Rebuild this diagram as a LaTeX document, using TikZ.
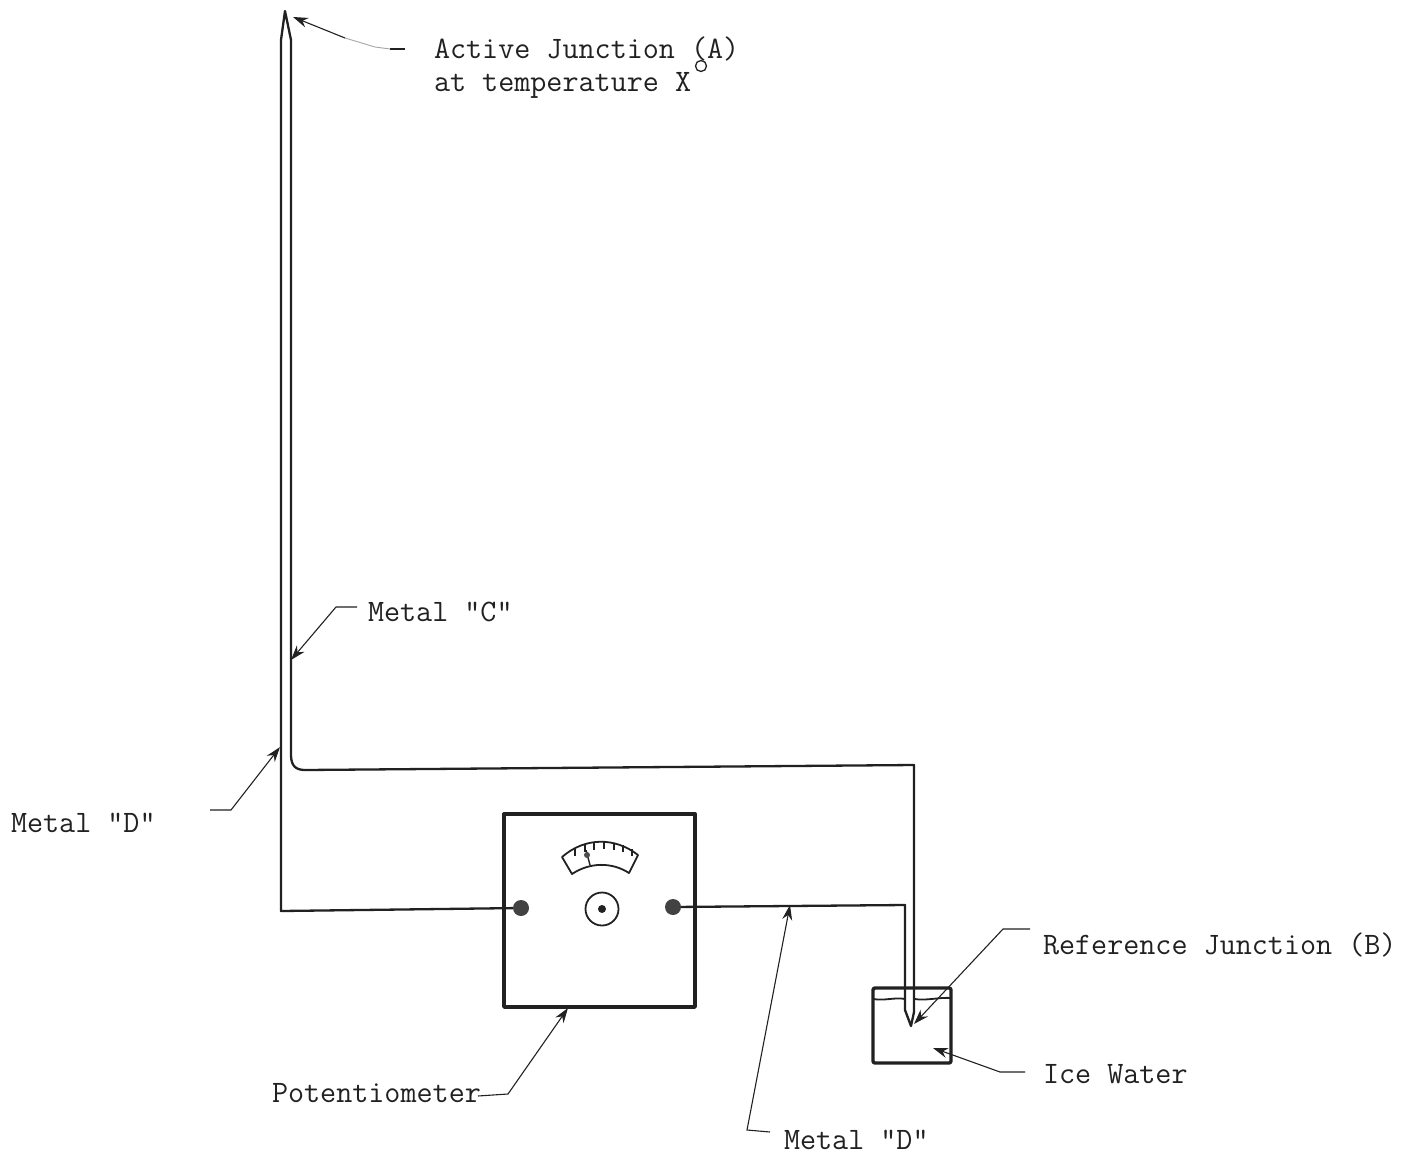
\documentclass[tikz,border=0pt]{standalone}
\usepackage{fontspec}
\setmonofont{Latin Modern Mono}
\usetikzlibrary{arrows.meta}
\definecolor{ink}{gray}{0.13}
\tikzset{
  wire/.style={draw=ink,line width=2.3pt,line join=round},
  heavy/.style={draw=ink,line width=3.4pt,line join=round},
  thin wire/.style={draw=ink,line width=1.8pt},
  leader/.style={draw=ink,line width=1.1pt,-{Stealth[length=15pt,width=10pt]}},
  faint leader/.style={draw=ink!40,line width=0.9pt},
  label/.style={anchor=base west,inner sep=0pt,outer sep=0pt,text=ink,font=\ttfamily\fontsize{31.2}{33}\selectfont},
  terminal/.style={circle,fill=ink!85,minimum size=16pt,inner sep=0pt},
}
\begin{document}
\begin{tikzpicture}[x=1pt,y=-1pt]
\useasboundingbox (0,0) rectangle (1413,1159);
% labels
\node[label] (lA) at (434,58) {Active Junction (A)};
\node[label] (lT) at (434,91) {at temperature X};
\node[label] (lC) at (368,621) {Metal "C"};
\node[label] (lD) at (11,832) {Metal "D"};
\node[label] (lP) at (272,1102) {Potentiometer};
\node[label] (lD2) at (784,1149) {Metal "D"};
\node[label] (lB) at (1043,954) {Reference Junction (B)};
\node[label] (lI) at (1043,1083) {Ice Water};
\draw[thin wire,line width=1.3pt] (701,66) circle (5.5);
% potentiometer
\node[heavy,draw,minimum width=191pt,minimum height=193pt,inner sep=0pt] (pot) at (599.5,910.5) {};
\node[terminal] (tl) at (521,908) {};
\node[terminal] (tr) at (673,907) {};
\node[circle,draw=ink,line width=1.8pt,minimum size=33pt,inner sep=0pt] (knob) at (602,909) {};
\node[circle,fill=ink,minimum size=8pt,inner sep=0pt] (knobc) at (602,909) {};
% dial
\draw[thin wire,line join=round] (572,874) .. controls (590,862) and (612,862) .. (629,873) -- (638,855) .. controls (615,837) and (585,837) .. (562,857) -- cycle;
\foreach \x/\yA/\yB in {575/849/856,585/845/852,594/843/850,604/842/849,614/843/850,623/845/852,632/849/856}
  \draw[thin wire,line width=1.2pt] (\x,\yA) -- (\x,\yB);
\draw[thin wire,line width=1.4pt] (590,865) -- (586,850);
\node[circle,fill=ink!80,minimum size=6pt,inner sep=0pt] (needle) at (587,855) {};
% beaker
\node[heavy,draw,rounded corners=2pt,minimum width=78pt,minimum height=75pt,inner sep=0pt] (beaker) at (912,1025.5) {};
\draw[thin wire] (873,999) .. controls (885,1001) and (895,997) .. (905,999);
\draw[thin wire] (915,999) .. controls (925,1001) and (940,997) .. (951,998);
% thermocouple wires
\coordinate (tip) at (285,11);
\coordinate (jB) at (911,1026);
\draw[wire] (tl) -- (281,911) -- (281,40) -- (tip) -- (291,40) -- (291,755) .. controls (291,766) and (296,770) .. (305,770) -- (914,765) -- (914,1012) -- (jB) -- (905,1010) -- (905,905) -- (tr);
% leaders
\coordinate (aS) at (405,49);
\coordinate (aM) at (345,38);
\coordinate (aK) at (375,47);
\draw[draw=ink,line width=1.1pt] (aS) -- (390,49);
\draw[faint leader] (390,49) -- (aK) -- (aM);
\draw[leader] (aM) -- (293,17);
\draw[leader] (357,607) -- (336,607) -- (291,660);
\draw[leader] (210,810) -- (231,810) -- (280,747);
\draw[leader] (478,1096) -- (508,1094) -- (568,1008);
\draw[leader] (770,1132) -- (747,1130) -- (790,905);
\draw[leader] (1030,929) -- (1003,929) -- (914,1024);
\draw[leader] (1025,1072) -- (1000,1072) -- (950,1054) -- (933,1048);
\end{tikzpicture}
\end{document}
